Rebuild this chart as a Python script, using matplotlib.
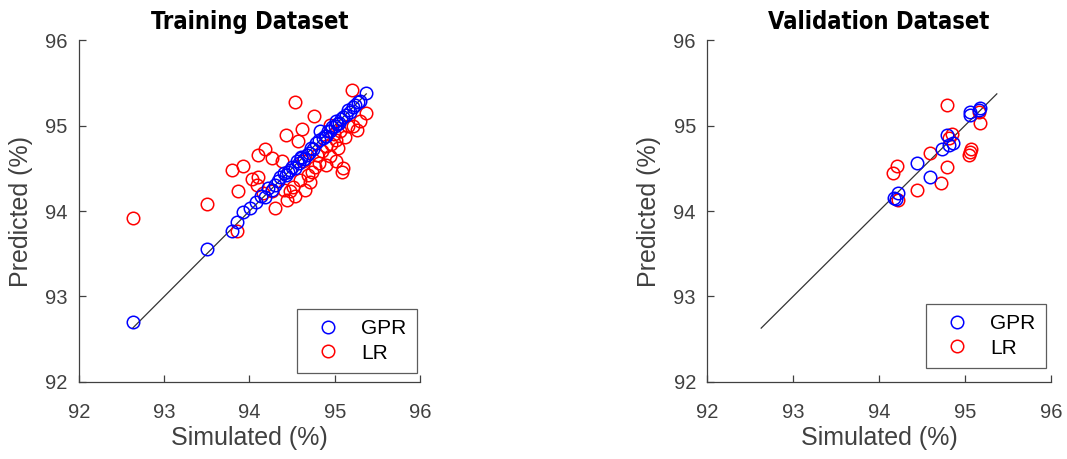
import matplotlib
matplotlib.use("Agg")
import matplotlib.pyplot as plt
from matplotlib import font_manager

# Training set: simulated vs predicted efficiency (%)
gpr_train_x = [92.63, 93.50, 93.79, 93.85, 93.93, 94.01, 94.08, 94.14, 94.18, 94.22,
               94.26, 94.30, 94.33, 94.36, 94.40, 94.43, 94.47, 94.50, 94.53, 94.56,
               94.58, 94.61, 94.64, 94.67, 94.70, 94.72, 94.75, 94.78, 94.81, 94.83,
               94.86, 94.89, 94.92, 94.95, 94.97, 95.00, 95.02, 95.05, 95.07, 95.10,
               95.13, 95.15, 95.18, 95.21, 95.24, 95.27, 95.30, 95.37, 94.45, 94.60,
               94.90, 95.03]
gpr_train_y = [92.70, 93.56, 93.77, 93.87, 93.99, 94.03, 94.11, 94.17, 94.16, 94.27,
               94.25, 94.31, 94.35, 94.40, 94.44, 94.42, 94.48, 94.52, 94.50, 94.58,
               94.56, 94.62, 94.61, 94.66, 94.68, 94.74, 94.73, 94.80, 94.83, 94.93,
               94.85, 94.88, 94.94, 94.93, 94.98, 95.00, 95.05, 95.03, 95.08, 95.10,
               95.12, 95.18, 95.16, 95.22, 95.24, 95.27, 95.29, 95.38, 94.46, 94.63,
               94.88, 95.02]
lr_train_x = [92.63, 93.50, 93.85, 93.87, 93.79, 93.93, 94.03, 94.10, 94.09, 94.16,
              94.26, 94.30, 94.44, 94.53, 94.47, 94.40, 94.65, 94.51, 94.71, 94.59,
              94.69, 94.73, 94.77, 94.90, 95.08, 95.02, 94.10, 94.18, 94.26, 94.38,
              94.43, 94.57, 94.62, 94.53, 94.76, 95.20, 95.37, 94.95, 95.30, 95.26,
              95.16, 95.06, 95.02, 94.96, 95.04, 94.90, 95.12, 94.94, 94.79, 94.63,
              94.81, 95.10, 94.85, 94.99, 95.22]
lr_train_y = [93.92, 94.08, 93.77, 94.23, 94.48, 94.53, 94.38, 94.40, 94.30, 94.21,
              94.23, 94.03, 94.13, 94.17, 94.23, 94.25, 94.25, 94.28, 94.34, 94.36,
              94.42, 94.46, 94.52, 94.54, 94.46, 94.58, 94.66, 94.73, 94.62, 94.58,
              94.89, 94.82, 94.96, 95.27, 95.11, 95.41, 95.15, 95.01, 95.05, 94.95,
              94.99, 94.93, 94.83, 94.78, 94.74, 94.76, 94.87, 94.64, 94.66, 94.58,
              94.56, 94.50, 94.70, 94.90, 95.00]

# Validation set
gpr_val_x = [94.17, 94.22, 94.20, 94.44, 94.59, 94.73, 94.79, 94.81, 94.86,
             95.06, 95.06, 95.16, 95.17]
gpr_val_y = [94.15, 94.21, 94.14, 94.56, 94.40, 94.73, 94.89, 94.77, 94.79,
             95.16, 95.12, 95.18, 95.20]
lr_val_x = [94.79, 95.16, 95.17, 94.85, 94.81, 94.59, 95.07, 95.06, 95.05,
            94.79, 94.21, 94.16, 94.44, 94.72, 94.22]
lr_val_y = [95.24, 95.16, 95.03, 94.90, 94.85, 94.68, 94.72, 94.69, 94.65,
            94.52, 94.53, 94.44, 94.25, 94.33, 94.13]

# Identity reference line extents
diag_train = [92.63, 95.37]
diag_val = [92.63, 95.37]

ticks = [92, 93, 94, 95, 96]
titles = ["Training Dataset", "Validation Dataset"]

available = {f.name for f in font_manager.fontManager.ttflist}
base_font = "Liberation Sans" if "Liberation Sans" in available else "DejaVu Sans"
if "Liberation Sans Narrow" in available:
    title_family, title_stretch = "Liberation Sans Narrow", "normal"
else:
    title_family, title_stretch = "DejaVu Sans", "condensed"
plt.rcParams["font.family"] = [base_font, "DejaVu Sans"]

axis_col = "0.25"

fig = plt.figure(figsize=(10.67, 4.59), dpi=100)
ax1 = fig.add_axes([0.074, 0.1678, 0.3196, 0.745])
ax2 = fig.add_axes([0.6626, 0.1678, 0.3224, 0.745])

panels = [
    (ax1, gpr_train_x, gpr_train_y, lr_train_x, lr_train_y, diag_train, titles[0],
     (0.991, 0.026)),
    (ax2, gpr_val_x, gpr_val_y, lr_val_x, lr_val_y, diag_val, titles[1],
     (0.985, 0.041)),
]

for ax, gx, gy, lx, ly, diag, title, leg_anchor in panels:
    ax.plot(diag, diag, color="0.2", lw=0.9, zorder=1)
    ax.plot(gx, gy, "o", ls="none", mfc="none", mec="#0000ff", ms=9, mew=1.1,
            label="GPR", zorder=3)
    ax.plot(lx, ly, "o", ls="none", mfc="none", mec="#ff0000", ms=9, mew=1.1,
            label="LR", zorder=2)
    ax.set_xlim(92, 96)
    ax.set_ylim(92, 96)
    ax.set_xticks(ticks)
    ax.set_yticks(ticks)
    for s in ("top", "right"):
        ax.spines[s].set_visible(False)
    for s in ("left", "bottom"):
        ax.spines[s].set_color(axis_col)
        ax.spines[s].set_linewidth(0.9)
    ax.tick_params(direction="in", length=5, width=0.9, colors=axis_col,
                   labelcolor="0.25", labelsize=14.5)
    ax.tick_params(axis="x", pad=15)
    ax.tick_params(axis="y", pad=8)
    ax.set_xlabel("Simulated (%)", fontsize=18, color="0.25", labelpad=3)
    ax.set_ylabel("Predicted (%)", fontsize=18, color="0.25", labelpad=9)
    ax.set_title(title, fontsize=17, fontweight="bold", family=title_family,
                 fontstretch=title_stretch, pad=8)
    leg = ax.legend(loc="lower right", bbox_to_anchor=leg_anchor, borderaxespad=0,
                    fontsize=15, frameon=True, fancybox=False, handletextpad=0.6,
                    borderpad=0.5, labelspacing=0.25, handlelength=2.0)
    leg.get_frame().set_edgecolor("0.2")
    leg.get_frame().set_linewidth(0.9)

fig.savefig("out.png", dpi=100)
